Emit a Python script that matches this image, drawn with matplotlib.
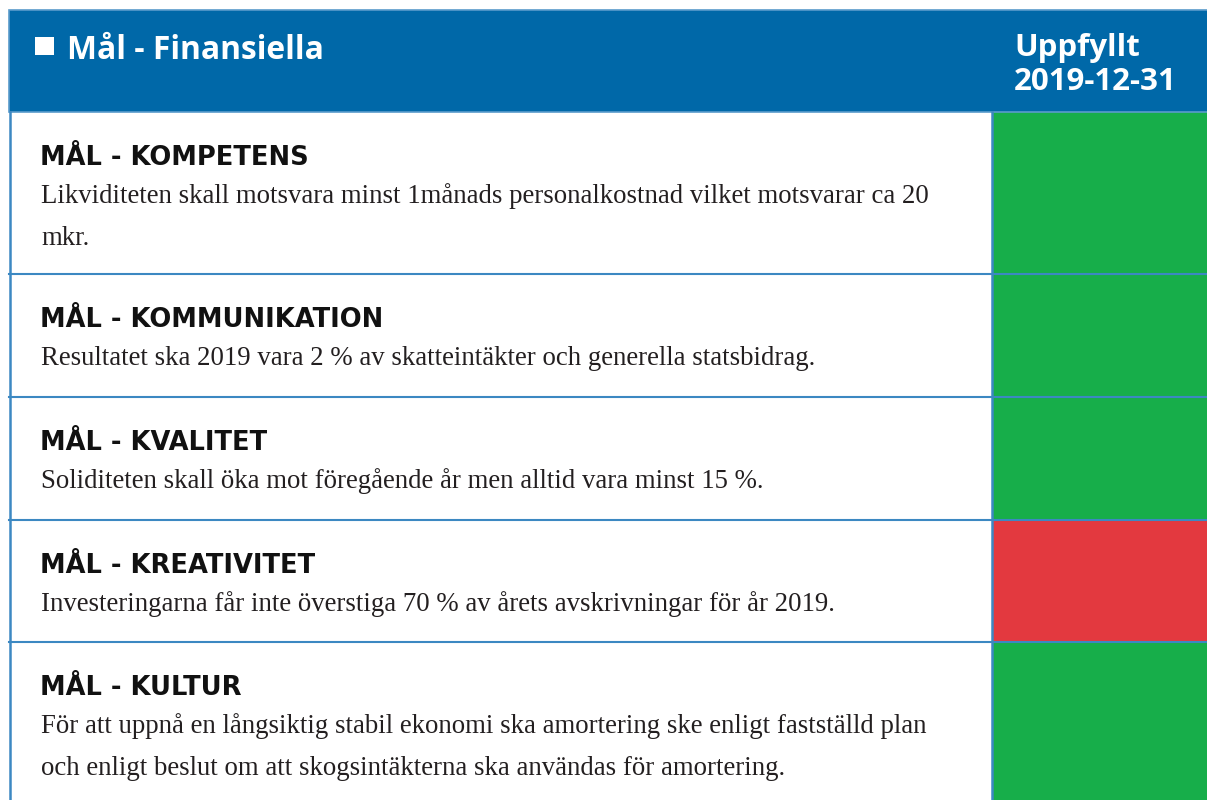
import matplotlib
matplotlib.use("Agg")
import matplotlib.pyplot as plt
from matplotlib.patches import Rectangle

title = "Mål - Finansiella"
status_header = ["Uppfyllt", "2019-12-31"]
goals = ["MÅL - KOMPETENS", "MÅL - KOMMUNIKATION", "MÅL - KVALITET",
         "MÅL - KREATIVITET", "MÅL - KULTUR"]
descriptions = [
    ["Likviditeten skall motsvara minst 1månads personalkostnad vilket motsvarar ca 20", "mkr."],
    ["Resultatet ska 2019 vara 2 % av skatteintäkter och generella statsbidrag."],
    ["Soliditeten skall öka mot föregående år men alltid vara minst 15 %."],
    ["Investeringarna får inte överstiga 70 % av årets avskrivningar för år 2019."],
    ["För att uppnå en långsiktig stabil ekonomi ska amortering ske enligt fastställd plan",
     "och enligt beslut om att skogsintäkterna ska användas för amortering."],
]
status = ["uppfyllt", "uppfyllt", "uppfyllt", "ej uppfyllt", "uppfyllt"]

status_colors = {"uppfyllt": "#17AE4A", "ej uppfyllt": "#E3393F"}
BLUE = "#0068A8"
LINE = "#3C88C2"

W, H = 1207, 800
fig = plt.figure(figsize=(W / 100, H / 100), dpi=100)
ax = fig.add_axes([0, 0, 1, 1])
ax.set_xlim(0, W)
ax.set_ylim(H, 0)
ax.axis("off")

left, right = 9, W + 5
top, head_bot = 10, 112
row_edges = [112, 274, 397, 520, 642, 810]
col_x = 992

# header
ax.add_patch(Rectangle((left, top), right - left, head_bot - top, facecolor=BLUE,
                       edgecolor="#5A9BCB", lw=1.2, zorder=2))
ax.add_patch(Rectangle((35, 37), 19, 18, facecolor="white", edgecolor="none", zorder=3))
ax.text(67, 59, title, color="white", fontsize=22.9, fontweight="bold",
        family="Open Sans", va="baseline", ha="left", zorder=3)
ax.text(1014, 56, status_header[0], color="white", fontsize=22.5, fontweight="bold",
        family="Open Sans", va="baseline", ha="left", zorder=3)
ax.text(1014, 90, status_header[1], color="white", fontsize=22.5, fontweight="bold",
        family="Open Sans", va="baseline", ha="left", zorder=3)

# rows
for i, (g, desc, st) in enumerate(zip(goals, descriptions, status)):
    y0, y1 = row_edges[i], row_edges[i + 1]
    ax.add_patch(Rectangle((col_x, y0), right - col_x, y1 - y0,
                           facecolor=status_colors[st], edgecolor="none", zorder=1))
    ax.text(40, y0 + 53, g, color="#111111", fontsize=18.5, fontweight="bold",
            family="DejaVu Sans", va="baseline", ha="left", zorder=3)
    for j, line in enumerate(desc):
        ax.text(41, y0 + 91 + 42 * j, line, color="#231f20", fontsize=19.3,
                family="Liberation Serif", va="baseline", ha="left", zorder=3)

# grid lines
for y in row_edges[1:-1]:
    ax.plot([left, W], [y, y], color=LINE, lw=1.5, zorder=2)
ax.plot([left + 1, left + 1], [head_bot, H], color=LINE, lw=1.8, zorder=2)
ax.plot([col_x, col_x], [head_bot, H], color=LINE, lw=1.8, zorder=2)

fig.savefig("out.png", dpi=100)
